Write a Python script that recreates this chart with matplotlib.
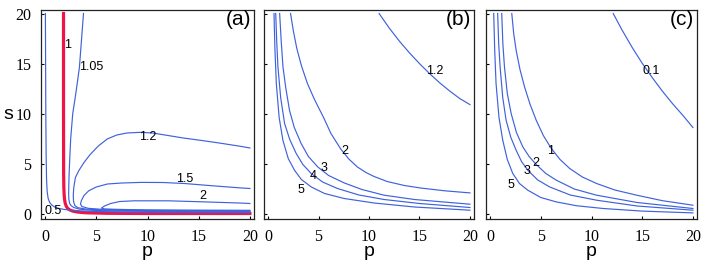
import matplotlib
matplotlib.use("Agg")
import matplotlib.pyplot as plt

# ---------------- data ----------------
# panel (a)
a05_p = [0.03, 0.05, 0.07, 0.1, 0.14, 0.2, 0.3, 0.45, 0.65, 0.9, 1.3, 1.8, 2.5, 3.5, 5, 8, 12, 20]
a05_s = [20, 15, 10, 6, 3.5, 2.2, 1.5, 1.1, 0.85, 0.67, 0.52, 0.42, 0.33, 0.26, 0.2, 0.15, 0.12, 0.1]

a1_p = [1.8, 1.8, 1.81, 1.83, 1.86, 1.9, 1.97, 2.07, 2.2, 2.4, 2.7, 3.2, 4, 6, 10, 20]
a1_s = [20, 10, 4, 2.6, 1.9, 1.4, 1.0, 0.72, 0.52, 0.36, 0.24, 0.14, 0.07, 0.02, 0.0, 0.0]

a105_p = [3.75, 3.35, 3.0, 2.7, 2.5, 2.4, 2.33, 2.3, 2.32, 2.4, 2.55, 2.8, 3.3, 4, 5, 7, 10, 15, 20]
a105_s = [20, 14.6, 12, 10.0, 7.5, 5.3, 3.5, 2.0, 1.4, 1.0, 0.78, 0.6, 0.45, 0.36, 0.3, 0.25, 0.21, 0.18, 0.17]

a12_p = [20, 19.2, 17, 15.3, 13.5, 12, 10.5, 9.36, 8, 7, 6.08, 5.2, 4.4, 3.8, 3.3, 2.96,
         2.8, 2.75, 2.78, 2.9, 3.2, 4, 6, 10, 20]
a12_s = [6.55, 6.7, 7.05, 7.3, 7.55, 7.8, 8.05, 8.12, 8.05, 7.85, 7.46, 6.75, 5.9, 5.1, 4.3, 3.6,
         2.6, 1.8, 1.2, 0.8, 0.58, 0.44, 0.34, 0.27, 0.22]

a15_p = [20, 19.2, 16, 13.6, 11.5, 9.36, 7.5, 6.08, 5, 4.27, 3.8, 3.55, 3.45, 3.6, 4.2, 5.5, 8, 12, 20]
a15_s = [2.5, 2.55, 2.8, 3.0, 3.1, 3.11, 3.05, 2.95, 2.65, 2.28, 1.8, 1.3, 0.94, 0.7, 0.52, 0.42, 0.35, 0.3, 0.27]

a2_p = [20, 19.2, 15.3, 12, 8.7, 7.3, 6.4, 5.8, 5.5, 5.8, 7.7, 10, 14, 20]
a2_s = [1.0, 1.04, 1.17, 1.27, 1.27, 1.2, 1.0, 0.75, 0.54, 0.45, 0.4, 0.36, 0.34, 0.32]

# panel (b)
b12_p = [11, 12, 13, 14, 15, 16, 17, 18, 19, 20]
b12_s = [20, 18.55, 17.25, 16.07, 14.99, 13.99, 13.07, 12.24, 11.49, 10.89]

b2_p = [2.23, 2.5, 2.85, 3.3, 3.9, 4.6, 5.5, 6.23, 7.2, 8.0, 8.85, 9.7, 10.5, 11.8, 13.5, 15.1, 17.5, 20]
b2_s = [20, 18.3, 16.5, 14.8, 13.0, 11.4, 9.6, 8.0, 6.45, 5.45, 4.65, 4.1, 3.7, 3.2, 2.8, 2.55, 2.27, 2.06]

b3_p = [1.15, 1.3, 1.48, 1.75, 2.13, 2.6, 3.28, 4.0, 4.92, 6.0, 7.54, 9.3, 11.5, 14.5, 20]
b3_s = [20, 17.3, 14.66, 12.6, 10.3, 8.6, 7.0, 5.7, 4.66, 3.8, 3.06, 2.4, 1.83, 1.4, 0.93]

b4_p = [0.76, 0.86, 0.98, 1.25, 1.64, 2.15, 2.79, 3.45, 4.27, 5.4, 6.88, 9, 11.5, 15, 20]
b4_s = [20, 17.2, 14.66, 11.6, 9.0, 7.4, 6.0, 4.9, 4.0, 3.15, 2.5, 1.85, 1.4, 1.0, 0.6]

b5_p = [0.59, 0.68, 0.82, 1.1, 1.47, 2.0, 2.62, 3.3, 4.27, 5.6, 7.54, 10.5, 14.5, 20]
b5_s = [20, 16.5, 13, 9.6, 7.33, 5.5, 4.33, 3.4, 2.66, 2.0, 1.5, 1.05, 0.65, 0.33]

# panel (c)
c01_p = [12.14, 13, 14, 15, 16, 17, 18, 19, 20]
c01_s = [20, 18.37, 16.62, 15.02, 13.57, 12.22, 10.97, 9.82, 8.6]

c1_p = [2.14, 2.33, 2.57, 2.95, 3.4, 3.95, 4.55, 5.25, 6.04, 6.9, 7.85, 9.1, 10.5, 12.3, 14.46, 17, 20]
c1_s = [20, 18.0, 16.33, 14.4, 12.66, 10.9, 9.33, 7.8, 6.5, 5.4, 4.5, 3.65, 3.0, 2.35, 1.83, 1.28, 0.83]

c2_p = [1.15, 1.26, 1.42, 1.7, 2.08, 2.6, 3.23, 3.85, 4.55, 5.5, 6.53, 8.3, 10.5, 14.5, 20]
c2_s = [20, 17.0, 14.66, 12.0, 10, 8.1, 6.66, 5.7, 4.9, 4.0, 3.33, 2.45, 1.83, 1.1, 0.5]

c3_p = [0.75, 0.85, 0.99, 1.25, 1.58, 2.05, 2.57, 3.1, 3.72, 4.7, 5.87, 7.9, 10.5, 14.5, 20]
c3_s = [20, 17.0, 14.66, 11.6, 9.33, 7.6, 6.33, 5.2, 4.33, 3.35, 2.66, 1.85, 1.33, 0.75, 0.33]

c5_p = [0.36, 0.46, 0.59, 0.88, 1.25, 1.7, 2.24, 2.9, 3.72, 5, 6.53, 8.5, 11.15, 15, 20]
c5_s = [20, 16.3, 13, 9.6, 7.33, 5.4, 4.0, 3.0, 2.33, 1.6, 1.16, 0.78, 0.5, 0.24, 0.06]

# contour labels: (text, p, s)
a_labels = [("1", 2.2, 16.8), ("1.05", 4.5, 14.66), ("1.2", 10.0, 7.6),
            ("1.5", 13.6, 3.5), ("2", 15.4, 1.73), ("0.5", 0.75, 0.25)]
b_labels = [("1.2", 16.56, 14.2), ("2", 7.64, 6.3), ("3", 5.58, 4.56),
            ("4", 4.43, 3.76), ("5", 3.28, 2.33)]
c_labels = [("0.1", 15.9, 14.3), ("1", 6.0, 6.2), ("2", 4.55, 5.0),
            ("3", 3.6, 4.2), ("5", 2.1, 2.8)]

ticks = [0, 5, 10, 15, 20]
panel_tags = ["(a)", "(b)", "(c)"]

# ---------------- drawing ----------------
BLUE = "#3f62dc"
RED = "#ee1448"
W, H = 705, 268
fig = plt.figure(figsize=(W / 100, H / 100), dpi=100)

rects_px = [(41, 254), (264, 474), (486, 697)]
top_px, bot_px = 9.5, 219
axes = []
for (l, r) in rects_px:
    ax = fig.add_axes([l / W, (H - bot_px) / H, (r - l) / W, (bot_px - top_px) / H])
    axes.append(ax)

panels = [
    ([(a05_p, a05_s), (a105_p, a105_s), (a12_p, a12_s), (a15_p, a15_s), (a2_p, a2_s)], a_labels),
    ([(b12_p, b12_s), (b2_p, b2_s), (b3_p, b3_s), (b4_p, b4_s), (b5_p, b5_s)], b_labels),
    ([(c01_p, c01_s), (c1_p, c1_s), (c2_p, c2_s), (c3_p, c3_s), (c5_p, c5_s)], c_labels),
]

for i, (ax, (curves, labels)) in enumerate(zip(axes, panels)):
    for p, s in curves:
        ax.plot(p, s, color=BLUE, lw=0.85, solid_joinstyle="round", antialiased=True)
    if i == 0:
        ax.plot(a1_p, a1_s, color=RED, lw=2.3, solid_joinstyle="round", zorder=1)
    for t, x, y in labels:
        ax.text(x, y, t, fontsize=9, family="Liberation Sans", ha="center", va="center", color="black")
    ax.set_xlim(-0.4, 20.4)
    ax.set_ylim(-0.55, 20.4)
    ax.set_xticks(ticks)
    ax.set_yticks(ticks)
    ax.tick_params(direction="in", length=2.5, width=0.8, pad=7, labelsize=11.5)
    for lab in ax.get_xticklabels() + ax.get_yticklabels():
        lab.set_family("Liberation Serif")
    if i > 0:
        ax.set_yticklabels([])
    for sp in ax.spines.values():
        sp.set_linewidth(0.9)
        sp.set_color("#222222")
    ax.set_xlabel("p", fontsize=14, family="Liberation Sans", labelpad=-1)
    ax.text(0.985, 0.952, panel_tags[i], transform=ax.transAxes, fontsize=15,
            family="Liberation Sans", ha="right", va="center")

axes[0].set_ylabel("s", fontsize=14, family="Liberation Sans", rotation=0, labelpad=5, va="center")

fig.savefig("out.png", dpi=100)
